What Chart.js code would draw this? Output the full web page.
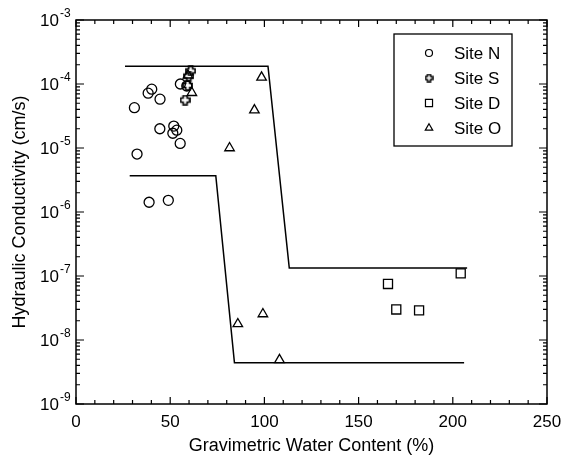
<!DOCTYPE html>
<html>
<head>
<meta charset="utf-8">
<script src="https://cdn.jsdelivr.net/npm/chart.js@4.4.0/dist/chart.umd.min.js"></script>
<style>
	body { margin: 0; background: #fff; }
	#grafico { display: block; }
</style>
</head>
<body>
<canvas id="grafico" width="570" height="457"></canvas>
<script>
// tick labels
var xTicks = [0, 50, 100, 150, 200, 250];
var yExpoentes = [-9, -8, -7, -6, -5, -4, -3];

// Site N
var siteNx = [31.0, 32.4, 38.3, 40.2, 38.8, 44.6, 44.5, 49.0, 51.9, 53.5, 51.4, 55.3, 55.4, 58.8];
var siteNy = [4.27e-5, 8.05e-6, 7.2e-5, 8.3e-5, 1.42e-6, 5.8e-5, 2.0e-5, 1.52e-6, 2.2e-5, 1.9e-5, 1.7e-5, 1.18e-5, 1.0e-4, 9.3e-5];

// Site S
var siteSx = [57.9, 60.9, 59.9, 59.3];
var siteSy = [5.6e-5, 1.6e-4, 1.33e-4, 9.5e-5];

// Site D
var siteDx = [165.6, 170.0, 182.1, 204.2];
var siteDy = [7.5e-8, 3.0e-8, 2.9e-8, 1.1e-7];

// Site O
var siteOx = [61.5, 59.4, 98.5, 94.7, 81.5, 85.9, 99.2, 108.0];
var siteOy = [7.3e-5, 1.37e-4, 1.27e-4, 3.9e-5, 1.0e-5, 1.78e-8, 2.55e-8, 4.9e-9];

// limites
var limiteSupX = [26, 101.9, 113.2, 207.6];
var limiteSupY = [1.9e-4, 1.9e-4, 1.33e-7, 1.33e-7];
var limiteInfX = [28.5, 74.2, 84.1, 206];
var limiteInfY = [3.7e-6, 3.7e-6, 4.4e-9, 4.4e-9];

function pontos(xs, ys) {
	return xs.map(function(x, i) { return { x: x, y: ys[i] }; });
}

// hollow plus marker for Site S
function criaCruz(tam, lw) {
	var c = document.createElement('canvas');
	c.width = tam; c.height = tam;
	var g = c.getContext('2d');
	var m = tam / 2, a = tam / 2 - 1, b = tam * 0.18;
	g.strokeStyle = '#000';
	g.lineWidth = lw;
	g.beginPath();
	g.moveTo(m - b, m - a); g.lineTo(m + b, m - a); g.lineTo(m + b, m - b);
	g.lineTo(m + a, m - b); g.lineTo(m + a, m + b); g.lineTo(m + b, m + b);
	g.lineTo(m + b, m + a); g.lineTo(m - b, m + a); g.lineTo(m - b, m + b);
	g.lineTo(m - a, m + b); g.lineTo(m - a, m - b); g.lineTo(m - b, m - b);
	g.closePath();
	g.stroke();
	return c;
}

var cruzGrande = criaCruz(11, 1.7);
var cruzPequena = criaCruz(9, 1.5);

var fonte = '"Liberation Sans", Arial, Helvetica, sans-serif';

var molduraPlugin = {
	id: 'moldura',
	afterDatasetsDraw: function(chart) {
		var ctx = chart.ctx;
		var a = chart.chartArea;
		var sx = chart.scales.x, sy = chart.scales.y;
		ctx.save();
		ctx.strokeStyle = '#000';
		ctx.lineWidth = 1.5;
		ctx.strokeRect(a.left, a.top, a.right - a.left, a.bottom - a.top);
		ctx.lineWidth = 1.2;
		ctx.beginPath();
		for (var v = sx.min; v <= sx.max; v += 10) {
			var px = sx.getPixelForValue(v);
			var len = (v % 50 === 0) ? 7 : 4;
			ctx.moveTo(px, a.bottom); ctx.lineTo(px, a.bottom - len);
			ctx.moveTo(px, a.top); ctx.lineTo(px, a.top + len);
		}
		yExpoentes.forEach(function(e) {
			var py = sy.getPixelForValue(Math.pow(10, e));
			ctx.moveTo(a.left, py); ctx.lineTo(a.left + 8, py);
			ctx.moveTo(a.right, py); ctx.lineTo(a.right - 8, py);
			if (e < -3) {
				for (var m = 2; m <= 9; m++) {
					var pm = sy.getPixelForValue(m * Math.pow(10, e));
					ctx.moveTo(a.left, pm); ctx.lineTo(a.left + 4, pm);
					ctx.moveTo(a.right, pm); ctx.lineTo(a.right - 4, pm);
				}
			}
		});
		ctx.stroke();

		// y tick labels with superscript
		ctx.fillStyle = '#000';
		ctx.textBaseline = 'middle';
		yExpoentes.forEach(function(e) {
			var py = sy.getPixelForValue(Math.pow(10, e));
			ctx.font = '17px ' + fonte;
			ctx.textAlign = 'right';
			ctx.fillText('10', a.left - 17, py + 1);
			ctx.font = '12px ' + fonte;
			ctx.textAlign = 'left';
			ctx.fillText(String(e), a.left - 16, py - 6);
		});

		// legend
		var lx = 394, ly = 34, lw = 118, lh = 112;
		ctx.fillStyle = '#fff';
		ctx.fillRect(lx, ly, lw, lh);
		ctx.lineWidth = 1.3;
		ctx.strokeRect(lx, ly, lw, lh);
		var linha = 0;
		chart.data.datasets.forEach(function(ds) {
			if (!ds.label) return;
			var cy = 53 + linha * 25;
			var estilo = ds.legendaEstilo;
			if (estilo instanceof HTMLCanvasElement) {
				ctx.drawImage(estilo, 429 - estilo.width / 2, cy - estilo.height / 2);
			} else {
				ctx.fillStyle = 'rgba(0,0,0,0)';
				ctx.strokeStyle = '#000';
				ctx.lineWidth = 1.2;
				Chart.helpers.drawPoint(ctx, {
					pointStyle: estilo,
					radius: ds.legendaRaio,
					borderWidth: 1.2,
					rotation: 0
				}, 429, cy);
			}
			ctx.fillStyle = '#000';
			ctx.font = '17px ' + fonte;
			ctx.textAlign = 'left';
			ctx.textBaseline = 'middle';
			ctx.fillText(ds.label, 454, cy + 1);
			linha++;
		});
		ctx.restore();
	}
};

var conjuntoPontos = function(label, xs, ys, estilo, raio, legEstilo, legRaio) {
	return {
		label: label,
		data: pontos(xs, ys),
		pointStyle: estilo,
		pointRadius: raio,
		pointBorderWidth: 1.3,
		pointBorderColor: '#000',
		pointBackgroundColor: 'rgba(0,0,0,0)',
		showLine: false,
		legendaEstilo: legEstilo,
		legendaRaio: legRaio
	};
};

var conjuntoLinha = function(xs, ys) {
	return {
		label: '',
		data: pontos(xs, ys),
		showLine: true,
		borderColor: '#000',
		borderWidth: 1.5,
		pointRadius: 0,
		tension: 0
	};
};

new Chart(document.getElementById('grafico').getContext('2d'), {
	type: 'scatter',
	data: {
		datasets: [
			conjuntoLinha(limiteSupX, limiteSupY),
			conjuntoLinha(limiteInfX, limiteInfY),
			conjuntoPontos('Site N', siteNx, siteNy, 'circle', 5, 'circle', 3.5),
			conjuntoPontos('Site S', siteSx, siteSy, cruzGrande, 5, cruzPequena, 4),
			conjuntoPontos('Site D', siteDx, siteDy, 'rect', 6.4, 'rect', 5),
			conjuntoPontos('Site O', siteOx, siteOy, 'triangle', 5.5, 'triangle', 4.3)
		]
	},
	options: {
		responsive: false,
		animation: false,
		devicePixelRatio: 1,
		layout: { padding: { top: 20, right: 23, left: 0, bottom: 0 } },
		plugins: {
			legend: { display: false },
			tooltip: { enabled: false }
		},
		scales: {
			x: {
				type: 'linear',
				min: 0,
				max: 250,
				afterFit: function(s) { s.height = 53; },
				afterBuildTicks: function(s) {
					s.ticks = xTicks.map(function(v) { return { value: v }; });
				},
				ticks: {
					color: '#000',
					font: { family: fonte, size: 17 },
					padding: 8,
					maxRotation: 0
				},
				grid: { display: false, drawTicks: false },
				border: { display: false },
				title: {
					display: true,
					text: 'Gravimetric Water Content (%)',
					color: '#000',
					font: { family: fonte, size: 18 },
					padding: { top: 3, bottom: 0 }
				}
			},
			y: {
				type: 'logarithmic',
				min: 1e-9,
				max: 1e-3,
				afterFit: function(s) { s.width = 76; },
				ticks: { display: false },
				grid: { display: false, drawTicks: false },
				border: { display: false },
				title: {
					display: true,
					text: 'Hydraulic Conductivity (cm/s)',
					color: '#000',
					font: { family: fonte, size: 18 },
					padding: { top: 9, bottom: 0 }
				}
			}
		}
	},
	plugins: [molduraPlugin]
});
</script>
</body>
</html>
